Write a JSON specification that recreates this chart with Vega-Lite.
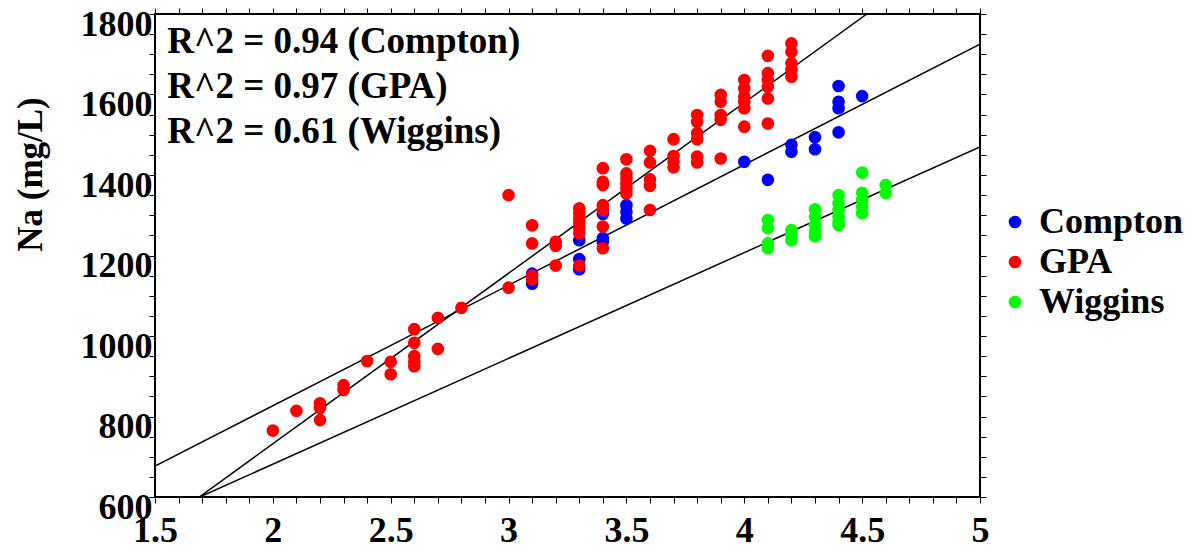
{
  "$schema": "https://vega.github.io/schema/vega-lite/v6.json",
  "width": 825,
  "height": 483,
  "autosize": {"type": "none"},
  "padding": {"left": 155, "top": 14, "right": 215, "bottom": 58},
  "background": "white",
  "datasets": {
    "points": [
      {"site": "Compton", "gpa": 3.1, "na": 1155},
      {"site": "Compton", "gpa": 3.1, "na": 1130},
      {"site": "Compton", "gpa": 3.3, "na": 1238},
      {"site": "Compton", "gpa": 3.3, "na": 1191},
      {"site": "Compton", "gpa": 3.3, "na": 1166},
      {"site": "Compton", "gpa": 3.4, "na": 1303},
      {"site": "Compton", "gpa": 3.4, "na": 1243},
      {"site": "Compton", "gpa": 3.4, "na": 1234},
      {"site": "Compton", "gpa": 3.5, "na": 1325},
      {"site": "Compton", "gpa": 3.5, "na": 1309},
      {"site": "Compton", "gpa": 3.5, "na": 1292},
      {"site": "Compton", "gpa": 4.0, "na": 1433},
      {"site": "Compton", "gpa": 4.1, "na": 1388},
      {"site": "Compton", "gpa": 4.2, "na": 1475},
      {"site": "Compton", "gpa": 4.2, "na": 1458},
      {"site": "Compton", "gpa": 4.3, "na": 1494},
      {"site": "Compton", "gpa": 4.3, "na": 1464},
      {"site": "Compton", "gpa": 4.4, "na": 1621},
      {"site": "Compton", "gpa": 4.4, "na": 1582},
      {"site": "Compton", "gpa": 4.4, "na": 1566},
      {"site": "Compton", "gpa": 4.4, "na": 1506},
      {"site": "Compton", "gpa": 4.5, "na": 1596},
      {"site": "GPA", "gpa": 2.0, "na": 765},
      {"site": "GPA", "gpa": 2.1, "na": 814},
      {"site": "GPA", "gpa": 2.2, "na": 833},
      {"site": "GPA", "gpa": 2.2, "na": 821},
      {"site": "GPA", "gpa": 2.2, "na": 791},
      {"site": "GPA", "gpa": 2.3, "na": 878},
      {"site": "GPA", "gpa": 2.3, "na": 866},
      {"site": "GPA", "gpa": 2.4, "na": 938},
      {"site": "GPA", "gpa": 2.5, "na": 936},
      {"site": "GPA", "gpa": 2.5, "na": 905},
      {"site": "GPA", "gpa": 2.6, "na": 1017},
      {"site": "GPA", "gpa": 2.6, "na": 983},
      {"site": "GPA", "gpa": 2.6, "na": 950},
      {"site": "GPA", "gpa": 2.6, "na": 936},
      {"site": "GPA", "gpa": 2.6, "na": 925},
      {"site": "GPA", "gpa": 2.7, "na": 1045},
      {"site": "GPA", "gpa": 2.7, "na": 968},
      {"site": "GPA", "gpa": 2.8, "na": 1070},
      {"site": "GPA", "gpa": 3.0, "na": 1350},
      {"site": "GPA", "gpa": 3.0, "na": 1120},
      {"site": "GPA", "gpa": 3.1, "na": 1275},
      {"site": "GPA", "gpa": 3.1, "na": 1230},
      {"site": "GPA", "gpa": 3.1, "na": 1150},
      {"site": "GPA", "gpa": 3.1, "na": 1140},
      {"site": "GPA", "gpa": 3.2, "na": 1234},
      {"site": "GPA", "gpa": 3.2, "na": 1224},
      {"site": "GPA", "gpa": 3.2, "na": 1175},
      {"site": "GPA", "gpa": 3.3, "na": 1317},
      {"site": "GPA", "gpa": 3.3, "na": 1305},
      {"site": "GPA", "gpa": 3.3, "na": 1292},
      {"site": "GPA", "gpa": 3.3, "na": 1280},
      {"site": "GPA", "gpa": 3.3, "na": 1268},
      {"site": "GPA", "gpa": 3.3, "na": 1255},
      {"site": "GPA", "gpa": 3.3, "na": 1175},
      {"site": "GPA", "gpa": 3.4, "na": 1417},
      {"site": "GPA", "gpa": 3.4, "na": 1383},
      {"site": "GPA", "gpa": 3.4, "na": 1375},
      {"site": "GPA", "gpa": 3.4, "na": 1325},
      {"site": "GPA", "gpa": 3.4, "na": 1313},
      {"site": "GPA", "gpa": 3.4, "na": 1272},
      {"site": "GPA", "gpa": 3.4, "na": 1218},
      {"site": "GPA", "gpa": 3.5, "na": 1439},
      {"site": "GPA", "gpa": 3.5, "na": 1404},
      {"site": "GPA", "gpa": 3.5, "na": 1392},
      {"site": "GPA", "gpa": 3.5, "na": 1379},
      {"site": "GPA", "gpa": 3.5, "na": 1367},
      {"site": "GPA", "gpa": 3.5, "na": 1354},
      {"site": "GPA", "gpa": 3.6, "na": 1460},
      {"site": "GPA", "gpa": 3.6, "na": 1431},
      {"site": "GPA", "gpa": 3.6, "na": 1389},
      {"site": "GPA", "gpa": 3.6, "na": 1373},
      {"site": "GPA", "gpa": 3.6, "na": 1313},
      {"site": "GPA", "gpa": 3.7, "na": 1489},
      {"site": "GPA", "gpa": 3.7, "na": 1447},
      {"site": "GPA", "gpa": 3.7, "na": 1433},
      {"site": "GPA", "gpa": 3.7, "na": 1419},
      {"site": "GPA", "gpa": 3.8, "na": 1549},
      {"site": "GPA", "gpa": 3.8, "na": 1532},
      {"site": "GPA", "gpa": 3.8, "na": 1504},
      {"site": "GPA", "gpa": 3.8, "na": 1489},
      {"site": "GPA", "gpa": 3.8, "na": 1446},
      {"site": "GPA", "gpa": 3.8, "na": 1431},
      {"site": "GPA", "gpa": 3.9, "na": 1599},
      {"site": "GPA", "gpa": 3.9, "na": 1582},
      {"site": "GPA", "gpa": 3.9, "na": 1549},
      {"site": "GPA", "gpa": 3.9, "na": 1537},
      {"site": "GPA", "gpa": 3.9, "na": 1441},
      {"site": "GPA", "gpa": 4.0, "na": 1636},
      {"site": "GPA", "gpa": 4.0, "na": 1615},
      {"site": "GPA", "gpa": 4.0, "na": 1595},
      {"site": "GPA", "gpa": 4.0, "na": 1582},
      {"site": "GPA", "gpa": 4.0, "na": 1566},
      {"site": "GPA", "gpa": 4.0, "na": 1520},
      {"site": "GPA", "gpa": 4.1, "na": 1696},
      {"site": "GPA", "gpa": 4.1, "na": 1653},
      {"site": "GPA", "gpa": 4.1, "na": 1636},
      {"site": "GPA", "gpa": 4.1, "na": 1619},
      {"site": "GPA", "gpa": 4.1, "na": 1590},
      {"site": "GPA", "gpa": 4.1, "na": 1528},
      {"site": "GPA", "gpa": 4.2, "na": 1727},
      {"site": "GPA", "gpa": 4.2, "na": 1706},
      {"site": "GPA", "gpa": 4.2, "na": 1678},
      {"site": "GPA", "gpa": 4.2, "na": 1661},
      {"site": "GPA", "gpa": 4.2, "na": 1644},
      {"site": "Wiggins", "gpa": 4.1, "na": 1288},
      {"site": "Wiggins", "gpa": 4.1, "na": 1268},
      {"site": "Wiggins", "gpa": 4.1, "na": 1230},
      {"site": "Wiggins", "gpa": 4.1, "na": 1218},
      {"site": "Wiggins", "gpa": 4.2, "na": 1263},
      {"site": "Wiggins", "gpa": 4.2, "na": 1251},
      {"site": "Wiggins", "gpa": 4.2, "na": 1238},
      {"site": "Wiggins", "gpa": 4.3, "na": 1315},
      {"site": "Wiggins", "gpa": 4.3, "na": 1296},
      {"site": "Wiggins", "gpa": 4.3, "na": 1276},
      {"site": "Wiggins", "gpa": 4.3, "na": 1259},
      {"site": "Wiggins", "gpa": 4.3, "na": 1248},
      {"site": "Wiggins", "gpa": 4.4, "na": 1350},
      {"site": "Wiggins", "gpa": 4.4, "na": 1330},
      {"site": "Wiggins", "gpa": 4.4, "na": 1313},
      {"site": "Wiggins", "gpa": 4.4, "na": 1296},
      {"site": "Wiggins", "gpa": 4.4, "na": 1284},
      {"site": "Wiggins", "gpa": 4.4, "na": 1276},
      {"site": "Wiggins", "gpa": 4.5, "na": 1406},
      {"site": "Wiggins", "gpa": 4.5, "na": 1356},
      {"site": "Wiggins", "gpa": 4.5, "na": 1338},
      {"site": "Wiggins", "gpa": 4.5, "na": 1321},
      {"site": "Wiggins", "gpa": 4.5, "na": 1305},
      {"site": "Wiggins", "gpa": 4.6, "na": 1375},
      {"site": "Wiggins", "gpa": 4.6, "na": 1355}
    ],
    "fits": [
      {"fit": "GPA", "gpa": 1.688, "na": 600},
      {"fit": "GPA", "gpa": 4.52, "na": 1800},
      {"fit": "Compton", "gpa": 1.5, "na": 677},
      {"fit": "Compton", "gpa": 5.0, "na": 1725},
      {"fit": "Wiggins", "gpa": 1.69, "na": 600},
      {"fit": "Wiggins", "gpa": 5.0, "na": 1470}
    ],
    "notes": [
      {"text": "R^2 = 0.94 (Compton)", "gpa": 1.552, "na": 1703},
      {"text": "R^2 = 0.97 (GPA)", "gpa": 1.552, "na": 1591},
      {"text": "R^2 = 0.61 (Wiggins)", "gpa": 1.552, "na": 1480}
    ]
  },
  "layer": [
    {
      "data": {"name": "fits"},
      "mark": {"type": "line", "color": "black", "strokeWidth": 1.5, "clip": true},
      "encoding": {
        "x": {"field": "gpa", "type": "quantitative",
          "scale": {"domain": [1.5, 5], "nice": false, "zero": false},
          "axis": {"orient": "top", "labels": false, "title": null,
            "values": [1.5,1.6,1.7,1.8,1.9,2.0,2.1,2.2,2.3,2.4,2.5,2.6,2.7,2.8,2.9,3.0,3.1,3.2,3.3,3.4,3.5,3.6,3.7,3.8,3.9,4.0,4.1,4.2,4.3,4.4,4.5,4.6,4.7,4.8,4.9,5.0]}},
        "y": {"field": "na", "type": "quantitative",
          "scale": {"domain": [600, 1800], "nice": false, "zero": false},
          "axis": {"orient": "right", "labels": false, "title": null,
            "values": [600,650,700,750,800,850,900,950,1000,1050,1100,1150,1200,1250,1300,1350,1400,1450,1500,1550,1600,1650,1700,1750,1800]}},
        "detail": {"field": "fit", "type": "nominal"}
      }
    },
    {
      "data": {"name": "points"},
      "mark": {"type": "circle", "size": 160, "opacity": 1},
      "encoding": {
        "x": {"field": "gpa", "type": "quantitative",
          "axis": {"orient": "bottom", "title": null, "format": "~g",
            "labelExpr": "abs(datum.value*2 - round(datum.value*2)) < 0.000001 ? datum.label : ''",
            "values": [1.5,1.6,1.7,1.8,1.9,2.0,2.1,2.2,2.3,2.4,2.5,2.6,2.7,2.8,2.9,3.0,3.1,3.2,3.3,3.4,3.5,3.6,3.7,3.8,3.9,4.0,4.1,4.2,4.3,4.4,4.5,4.6,4.7,4.8,4.9,5.0],
            "labelPadding": 10, "labelFlush": false, "labelOverlap": false}},
        "y": {"field": "na", "type": "quantitative",
          "axis": {"orient": "left", "title": "Na (mg/L)", "format": "d",
            "labelExpr": "datum.value % 200 == 0 ? datum.label : ''",
            "values": [600,650,700,750,800,850,900,950,1000,1050,1100,1150,1200,1250,1300,1350,1400,1450,1500,1550,1600,1650,1700,1750,1800],
            "labelPadding": -3, "labelOffset": 10, "labelFlush": false, "labelOverlap": false,
            "titleX": -125, "titleY": 160, "titleBaseline": "middle", "titleAngle": -90,
            "titleFont": "Liberation Serif", "titleFontWeight": "bold", "titleFontSize": 35, "titleColor": "black"}},
        "color": {"field": "site", "type": "nominal",
          "scale": {"domain": ["Compton", "GPA", "Wiggins"], "range": ["#0000ff", "#ff0000", "#00ff00"]},
          "legend": {"title": null, "orient": "none", "legendX": 842, "legendY": 190,
            "symbolType": "circle", "symbolSize": 160, "symbolOpacity": 1,
            "labelFont": "Liberation Serif", "labelFontWeight": "bold", "labelFontSize": 36, "labelColor": "black",
            "labelOffset": 6, "rowPadding": 4, "padding": 0}}
      }
    },
    {
      "data": {"name": "notes"},
      "mark": {"type": "text", "align": "left", "baseline": "alphabetic", "font": "Liberation Serif", "fontWeight": "bold", "fontSize": 37, "color": "black"},
      "encoding": {
        "x": {"field": "gpa", "type": "quantitative", "axis": null},
        "y": {"field": "na", "type": "quantitative", "axis": null},
        "text": {"field": "text"}
      }
    }
  ],
  "resolve": {"axis": {"x": "independent", "y": "independent"}},
  "config": {
    "view": {"stroke": "black", "strokeWidth": 2},
    "axis": {"domain": false, "grid": false, "ticks": true, "tickSize": 6, "tickWidth": 1, "tickColor": "black",
      "labelFont": "Liberation Serif", "labelFontWeight": "bold", "labelFontSize": 36, "labelColor": "black"}
  }
}
